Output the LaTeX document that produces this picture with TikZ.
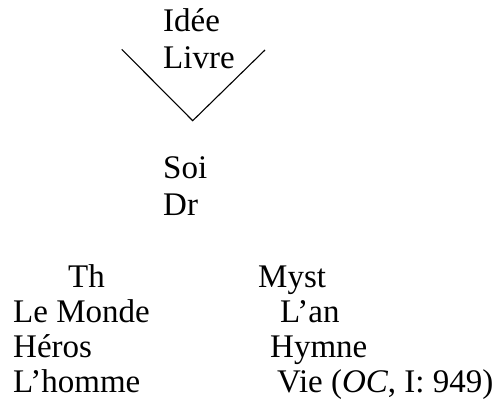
\documentclass[tikz,border=0pt]{standalone}
\usepackage{fontspec}
\setmainfont{Liberation Serif}
\usepackage{tikz}
\tikzset{txt/.style = {anchor=base west, inner sep=0pt, font=\fontsize{33}{38}\selectfont}}

\begin{document}
\begin{tikzpicture}[x=1pt, y=-1pt]

\useasboundingbox (0,0) rectangle (497,407);
\node[txt] (idee) at (163,31.7) {Idée};
\node[txt] (livre) at (163,68.3) {Livre};
\node[txt] (soi) at (163,178) {Soi};
\node[txt] (dr) at (163,215) {Dr};
\coordinate (vl) at (121.7,49.3);
\coordinate (vb) at (192.7,120.7);
\coordinate (vr) at (265,50);
\draw[line width=1.1pt] (vl)--(vb)--(vr);
\foreach \n/\x/\y/\t in {th/68/287/Th, lemonde/13/322/Le Monde, heros/13/357/Héros, lhomme/13/392/L’homme,
  myst/258/287/Myst, lan/280/322/L’an, hymne/270/357/Hymne, vie/277/392/{Vie (\textit{OC}, I: 949)}}
  \node[txt] (\n) at (\x,\y) {\t};

\end{tikzpicture}
\end{document}
